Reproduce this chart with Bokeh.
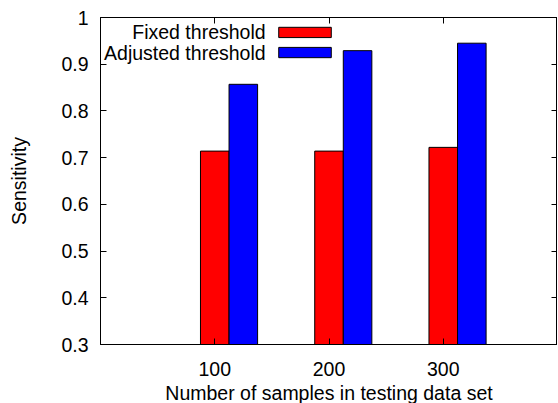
from bokeh.plotting import figure
from bokeh.models import LinearAxis, FixedTicker, Range1d, Label, BoxAnnotation, ColumnDataSource, CustomJSTickFormatter
from bokeh.embed import file_html
from bokeh.resources import INLINE

# Data
samples = [100, 200, 300]
fixed = [0.714, 0.714, 0.722]
adjusted = [0.857, 0.929, 0.945]
series_names = ["Fixed threshold", "Adjusted threshold"]
x_ticks = [100, 200, 300]
y_ticks = [0.3, 0.4, 0.5, 0.6, 0.7, 0.8, 0.9, 1.0]

FONT = "Liberation Sans"
FS = "19.5px"
bar_w = 25
x0, x1 = 0, 400
y0, y1 = 0.3, 1.0

p = figure(frame_width=457, frame_height=327, output_backend="svg", toolbar_location=None,
           x_range=Range1d(x0, x1), y_range=Range1d(y0, y1),
           min_border_left=100, min_border_right=0, min_border_top=17, min_border_bottom=0)
p.grid.visible = False
p.outline_line_color = "black"
p.outline_line_width = 1
p.background_fill_color = "white"
p.border_fill_color = "white"

src = ColumnDataSource(dict(
    x_fixed=[s for s in samples],
    x_adj=[s + bar_w for s in samples],
    fixed=fixed, adjusted=adjusted,
))
p.vbar(x="x_fixed", top="fixed", bottom=y0, width=bar_w, source=src,
       fill_color="#ff0000", line_color="black", line_width=1)
p.vbar(x="x_adj", top="adjusted", bottom=y0, width=bar_w, source=src,
       fill_color="#0000ff", line_color="black", line_width=1)

def style(ax):
    ax.major_tick_in = 6
    ax.major_tick_out = 0
    ax.minor_tick_line_color = None
    ax.axis_line_color = "black"
    ax.major_tick_line_color = "black"
    ax.major_label_text_font = FONT
    ax.major_label_text_font_size = FS
    ax.major_label_text_color = "black"
    ax.major_label_text_line_height = 1.0
    ax.axis_label_text_font = FONT
    ax.axis_label_text_font_size = FS
    ax.axis_label_text_font_style = "normal"
    ax.axis_label_text_color = "black"
    ax.axis_label_text_line_height = 1.0

xa = p.xaxis[0]
xa.ticker = FixedTicker(ticks=x_ticks)
xa.axis_label = "Number of samples in testing data set"
style(xa)
xa.major_label_standoff = 17
xa.axis_label_standoff = 3

ya = p.yaxis[0]
ya.ticker = FixedTicker(ticks=y_ticks)
ya.major_label_overrides = {1.0: "1", 1: "1"}
ya.axis_label = "Sensitivity"
style(ya)
ya.major_label_standoff = 12
ya.axis_label_standoff = 28

# mirrored tick marks (gnuplot border style) without labels
blank = CustomJSTickFormatter(code="return '';")
top = LinearAxis(ticker=FixedTicker(ticks=x_ticks), formatter=blank)
style(top)
top.major_label_standoff = 0
p.add_layout(top, "above")
right = LinearAxis(ticker=FixedTicker(ticks=y_ticks), formatter=blank)
style(right)
right.major_label_standoff = 0
p.add_layout(right, "right")

# Legend (gnuplot style: text then sample), placed in data space
leg_text_x = 144.5
leg_s0, leg_s1 = 156, 202
leg_rows = [(0.968, "#ff0000"), (0.925, "#0000ff")]
for (yc, col), name in zip(leg_rows, series_names):
    p.add_layout(Label(x=leg_text_x, y=yc, text=name, text_align="right",
                       text_baseline="middle", text_font=FONT, text_font_size=FS,
                       text_color="black"))
    p.add_layout(BoxAnnotation(left=leg_s0, right=leg_s1, bottom=yc - 0.011, top=yc + 0.011,
                               fill_color=col, fill_alpha=1, line_color="black",
                               line_width=1, line_alpha=1))

open("out.html", "w").write(file_html(p, INLINE))
